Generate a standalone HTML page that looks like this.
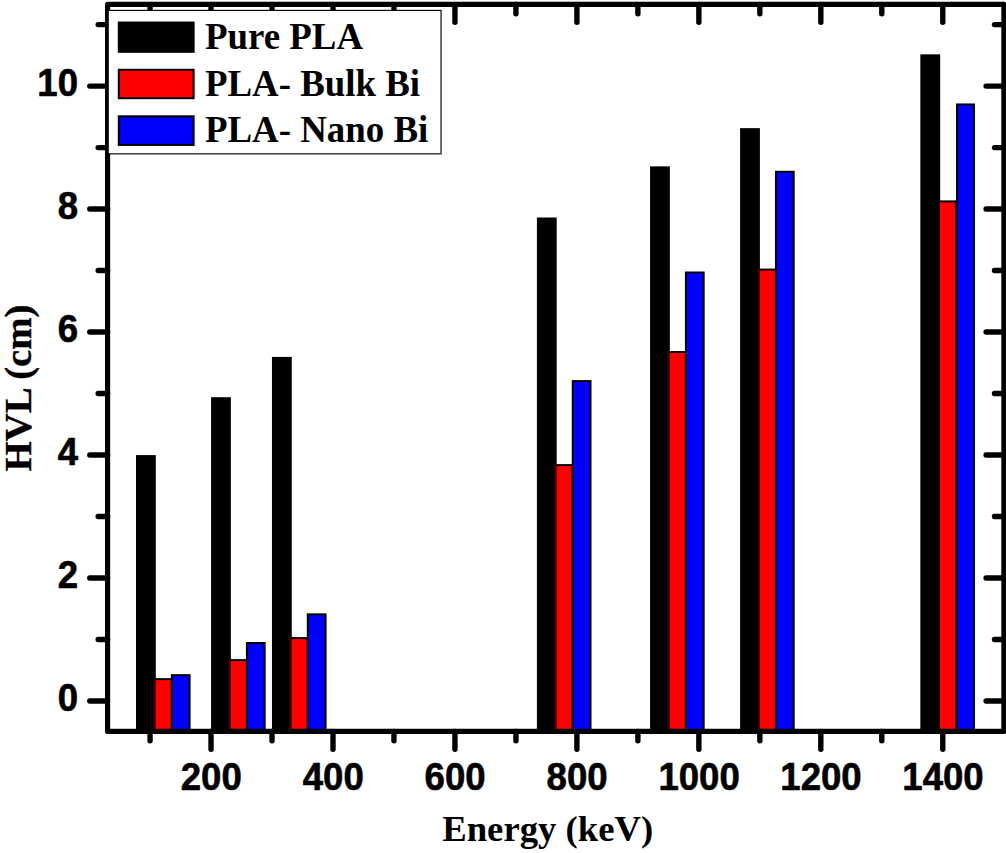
<!DOCTYPE html>
<html lang="en"><head><meta charset="utf-8"><title>HVL vs Energy</title>
<style>html,body{margin:0;padding:0;background:#fff;overflow:hidden}svg{display:block}</style></head><body>
<svg width="1006" height="853" viewBox="0 0 1006 853">
<rect width="1006" height="853" fill="#fff"/>
<g stroke="#000" stroke-width="2.0" stroke-linejoin="miter">
<rect x="137.00" y="456.10" width="17.80" height="275.34" fill="#000"/>
<rect x="154.50" y="679.13" width="17.35" height="52.31" fill="#f00"/>
<rect x="171.85" y="675.15" width="17.75" height="56.29" fill="#00f"/>
<rect x="212.07" y="398.20" width="17.80" height="333.24" fill="#000"/>
<rect x="229.57" y="660.10" width="17.35" height="71.34" fill="#f00"/>
<rect x="246.92" y="643.00" width="17.75" height="88.44" fill="#00f"/>
<rect x="272.95" y="357.90" width="17.80" height="373.54" fill="#000"/>
<rect x="290.45" y="638.10" width="17.35" height="93.34" fill="#f00"/>
<rect x="307.80" y="614.35" width="17.75" height="117.09" fill="#00f"/>
<rect x="537.90" y="218.50" width="17.80" height="512.94" fill="#000"/>
<rect x="555.40" y="465.10" width="17.35" height="266.34" fill="#f00"/>
<rect x="572.75" y="381.10" width="17.75" height="350.34" fill="#00f"/>
<rect x="651.07" y="167.36" width="17.80" height="564.08" fill="#000"/>
<rect x="668.57" y="352.00" width="17.35" height="379.44" fill="#f00"/>
<rect x="685.92" y="272.50" width="17.75" height="458.94" fill="#00f"/>
<rect x="741.10" y="129.15" width="17.80" height="602.29" fill="#000"/>
<rect x="758.60" y="269.60" width="17.35" height="461.84" fill="#f00"/>
<rect x="775.95" y="171.80" width="17.75" height="559.64" fill="#00f"/>
<rect x="921.35" y="55.35" width="17.80" height="676.09" fill="#000"/>
<rect x="938.85" y="201.40" width="17.35" height="530.04" fill="#f00"/>
<rect x="957.00" y="104.46" width="16.95" height="626.98" fill="#00f"/>
</g>
<g fill="#400000">
<rect x="153.50" y="678.13" width="2" height="53.31"/>
<rect x="228.57" y="659.10" width="2" height="72.34"/>
<rect x="289.45" y="637.10" width="2" height="94.34"/>
<rect x="554.40" y="464.10" width="2" height="267.34"/>
<rect x="667.57" y="351.00" width="2" height="380.44"/>
<rect x="757.60" y="268.60" width="2" height="462.84"/>
</g>
<g stroke="#000" stroke-width="5.15" stroke-linecap="round" stroke-linejoin="round" fill="none"><path d="M107.58 4.43H1003.9V731.44H107.58Z"/></g>
<g stroke="#000" stroke-width="5.4" stroke-linecap="round" fill="none">
<path d="M89.78 700.93H107.58"/>
<path d="M986.10 700.93H1003.90"/>
<path d="M98.18 639.45H107.58"/>
<path d="M994.50 639.45H1003.90"/>
<path d="M89.78 577.96H107.58"/>
<path d="M986.10 577.96H1003.90"/>
<path d="M98.18 516.48H107.58"/>
<path d="M994.50 516.48H1003.90"/>
<path d="M89.78 455.00H107.58"/>
<path d="M986.10 455.00H1003.90"/>
<path d="M98.18 393.51H107.58"/>
<path d="M994.50 393.51H1003.90"/>
<path d="M89.78 332.03H107.58"/>
<path d="M986.10 332.03H1003.90"/>
<path d="M98.18 270.55H107.58"/>
<path d="M994.50 270.55H1003.90"/>
<path d="M89.78 209.07H107.58"/>
<path d="M986.10 209.07H1003.90"/>
<path d="M98.18 147.58H107.58"/>
<path d="M994.50 147.58H1003.90"/>
<path d="M89.78 86.10H107.58"/>
<path d="M986.10 86.10H1003.90"/>
<path d="M98.18 24.62H107.58"/>
<path d="M994.50 24.62H1003.90"/>
<path d="M150.05 731.44V740.84"/>
<path d="M150.05 4.43V13.83"/>
<path d="M211.03 731.44V749.24"/>
<path d="M211.03 4.43V22.23"/>
<path d="M272.01 731.44V740.84"/>
<path d="M272.01 4.43V13.83"/>
<path d="M332.99 731.44V749.24"/>
<path d="M332.99 4.43V22.23"/>
<path d="M393.97 731.44V740.84"/>
<path d="M393.97 4.43V13.83"/>
<path d="M454.94 731.44V749.24"/>
<path d="M454.94 4.43V22.23"/>
<path d="M515.92 731.44V740.84"/>
<path d="M515.92 4.43V13.83"/>
<path d="M576.90 731.44V749.24"/>
<path d="M576.90 4.43V22.23"/>
<path d="M637.88 731.44V740.84"/>
<path d="M637.88 4.43V13.83"/>
<path d="M698.86 731.44V749.24"/>
<path d="M698.86 4.43V22.23"/>
<path d="M759.84 731.44V740.84"/>
<path d="M759.84 4.43V13.83"/>
<path d="M820.82 731.44V749.24"/>
<path d="M820.82 4.43V22.23"/>
<path d="M881.80 731.44V740.84"/>
<path d="M881.80 4.43V13.83"/>
<path d="M942.78 731.44V749.24"/>
<path d="M942.78 4.43V22.23"/>
</g>
<rect x="108.2" y="10.4" width="332.85" height="143.45" fill="#fff" stroke="#000" stroke-width="1.15"/>
<g stroke="#000" stroke-width="2">
<rect x="118.8" y="22.55" width="74.83" height="29.28" fill="#000"/>
<rect x="118.8" y="69.79" width="74.83" height="28.41" fill="#f00"/>
<rect x="118.8" y="116.30" width="74.83" height="28.63" fill="#00f"/>
</g>
<g font-family="'Liberation Serif','Times New Roman',Times,serif" font-weight="bold" font-size="36.88" fill="#000">
<text x="204.95" y="48.7">Pure PLA</text>
<text x="204.95" y="95.8">PLA- Bulk Bi</text>
<text x="204.95" y="142.3">PLA- Nano Bi</text>
<text x="547.7" y="840.6" text-anchor="middle" font-size="36.7">Energy (keV)</text>
<text transform="translate(31.4 388.0) rotate(-90)" text-anchor="middle" font-size="38.8" stroke="#000" stroke-width="0.35">HVL (cm)</text>
</g>
<g font-family="'Liberation Sans',Arial,Helvetica,sans-serif" font-weight="bold" font-size="36.6" fill="#000" stroke="#000" stroke-width="0.6" stroke-linejoin="round">
<text transform="translate(78.0 711.1) scale(1 1.084)" text-anchor="end">0</text>
<text transform="translate(78.0 588.2) scale(1 1.084)" text-anchor="end">2</text>
<text transform="translate(78.0 465.2) scale(1 1.084)" text-anchor="end">4</text>
<text transform="translate(78.0 342.2) scale(1 1.084)" text-anchor="end">6</text>
<text transform="translate(78.0 219.3) scale(1 1.084)" text-anchor="end">8</text>
<text transform="translate(78.0 96.3) scale(1 1.084)" text-anchor="end">10</text>
<text transform="translate(211.2 790.0) scale(1 1.084)" text-anchor="middle">200</text>
<text transform="translate(333.2 790.0) scale(1 1.084)" text-anchor="middle">400</text>
<text transform="translate(455.1 790.0) scale(1 1.084)" text-anchor="middle">600</text>
<text transform="translate(577.1 790.0) scale(1 1.084)" text-anchor="middle">800</text>
<text transform="translate(699.1 790.0) scale(1 1.084)" text-anchor="middle">1000</text>
<text transform="translate(821.0 790.0) scale(1 1.084)" text-anchor="middle">1200</text>
<text transform="translate(943.0 790.0) scale(1 1.084)" text-anchor="middle">1400</text>
</g>
</svg></body></html>
